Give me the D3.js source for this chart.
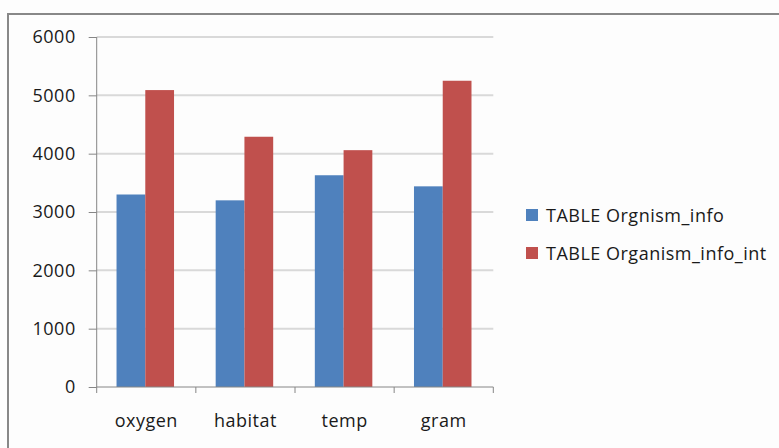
<!DOCTYPE html>
<html>
<head>
<meta charset="utf-8">
<script src="https://cdn.jsdelivr.net/npm/d3@7"></script>
<style>
  html, body { margin: 0; padding: 0; background: #fff; }
  svg { display: block; font-family: "Open Sans", sans-serif; }
  .lbl { font-size: 18px; letter-spacing: 0.5px; fill: #1a1a1a; }
</style>
</head>
<body>
<svg id="chart" width="779" height="448"></svg>
<script>
// Row counts per attribute for the two organism tables
const categories = ["oxygen", "habitat", "temp", "gram"];
const seriesNames = ["TABLE Orgnism_info", "TABLE Organism_info_int"];
const orgnismInfo = [3300, 3200, 3630, 3440];
const organismInfoInt = [5090, 4290, 4060, 5250];
const yTicks = [0, 1000, 2000, 3000, 4000, 5000, 6000];
const colors = ["#4F81BD", "#C0504D"];

const seriesValues = [orgnismInfo, organismInfoInt];
const rows = categories.map((c, i) => ({
  category: c,
  values: seriesNames.map((s, j) => ({ series: s, value: seriesValues[j][i] }))
}));

const svg = d3.select("#chart");
const plot = { left: 96.7, right: 493.3, top: 37, bottom: 387 };

// Outer chart frame (left and top edges visible)
svg.append("rect").attr("x", 0).attr("y", 0).attr("width", 779).attr("height", 448).attr("fill", "#fdfdfd");
svg.append("path")
  .attr("d", "M8,448 V14 H779")
  .attr("fill", "none").attr("stroke", "#888").attr("stroke-width", 2);

const x0 = d3.scaleBand().domain(categories).range([plot.left, plot.right]).padding(0);
const x1 = d3.scaleBand().domain(seriesNames)
  .range([x0.bandwidth() * 0.2, x0.bandwidth() * 0.78]).padding(0);
const y = d3.scaleLinear().domain([0, 6000]).range([plot.bottom, plot.top]);

// Horizontal gridlines
svg.append("g")
  .selectAll("line").data(yTicks.filter(t => t > 0)).join("line")
  .attr("x1", plot.left).attr("x2", plot.right)
  .attr("y1", d => y(d)).attr("y2", d => y(d))
  .attr("stroke", "#d9d9d9").attr("stroke-width", 2);

// Bars
const groups = svg.append("g").selectAll("g").data(rows).join("g")
  .attr("transform", d => `translate(${x0(d.category)},0)`);
groups.selectAll("rect").data(d => d.values).join("rect")
  .attr("x", d => x1(d.series))
  .attr("width", x1.bandwidth())
  .attr("y", d => y(d.value))
  .attr("height", d => y(0) - y(d.value))
  .attr("fill", (d, i) => colors[i]);

// Y axis
const yAxis = svg.append("g")
  .attr("transform", `translate(${plot.left},0)`)
  .call(d3.axisLeft(y).tickValues(yTicks).tickSize(8).tickPadding(13).tickFormat(d3.format("d")));
yAxis.select(".domain").attr("stroke", "#868686").attr("d", `M0,${plot.top}V${plot.bottom}`);
yAxis.selectAll(".tick line").attr("stroke", "#868686");
yAxis.selectAll(".tick text").attr("class", "lbl").attr("fill", null)
  .style("font-family", "'Open Sans', sans-serif");

// X axis with tick marks at category boundaries
const xAxis = svg.append("g").attr("transform", `translate(0,${plot.bottom})`);
xAxis.append("line").attr("x1", plot.left).attr("x2", plot.right)
  .attr("stroke", "#868686");
const boundaries = categories.map(c => x0(c)).concat([plot.right]);
xAxis.selectAll("line.tick").data(boundaries).join("line").attr("class", "tick")
  .attr("x1", d => d).attr("x2", d => d).attr("y1", 0).attr("y2", 6)
  .attr("stroke", "#868686");
xAxis.selectAll("text").data(categories).join("text")
  .attr("class", "lbl")
  .attr("x", d => x0(d) + x0.bandwidth() / 2)
  .attr("y", 40)
  .attr("text-anchor", "middle")
  .text(d => d);

// Legend
const legend = svg.append("g").attr("transform", "translate(526,209)");
const items = legend.selectAll("g").data(seriesNames).join("g")
  .attr("transform", (d, i) => `translate(0,${i * 38})`);
items.append("rect").attr("width", 12).attr("height", 12).attr("fill", (d, i) => colors[i]);
items.append("text").attr("class", "lbl").attr("x", 20).attr("y", 12.5).text(d => d);
</script>
</body>
</html>
